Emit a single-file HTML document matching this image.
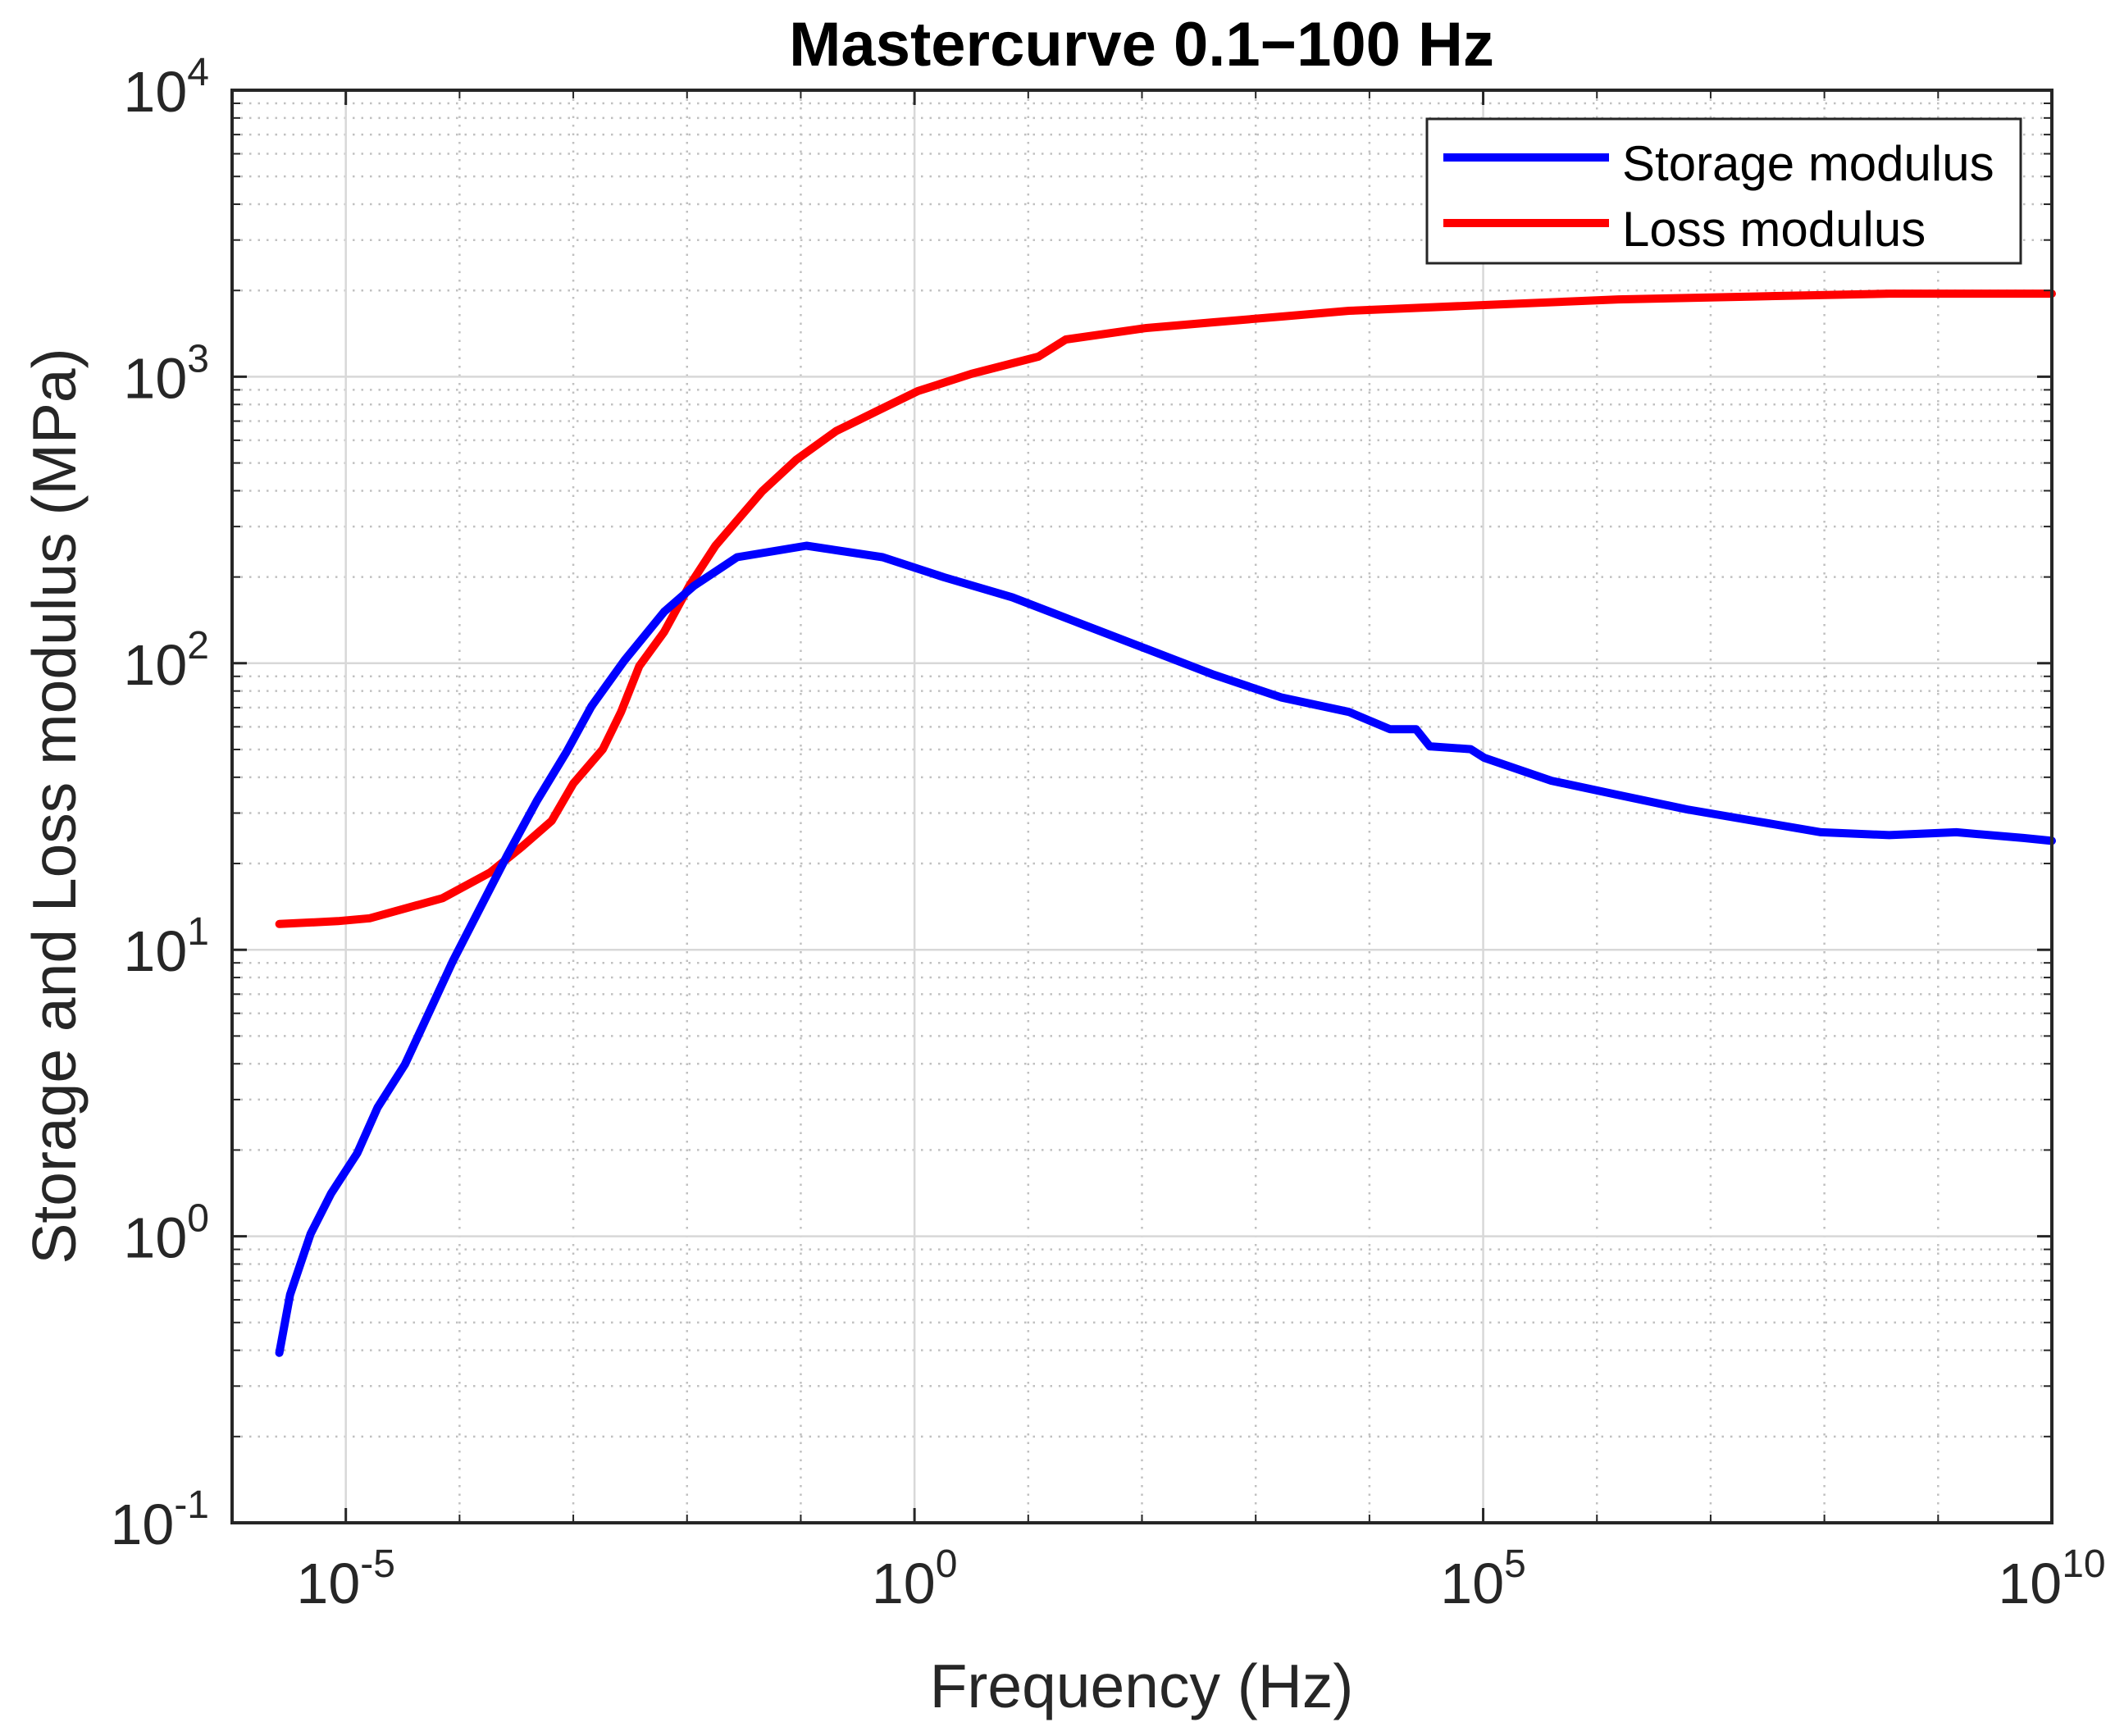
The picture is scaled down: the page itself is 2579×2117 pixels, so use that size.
<!DOCTYPE html>
<html><head><meta charset="utf-8"><style>
html,body{margin:0;padding:0;background:#fff;}
svg{display:block;font-family:"Liberation Sans",Arial,sans-serif;}
</style></head><body>
<svg id="chart" width="2579" height="2117" viewBox="0 0 2579 2117" xmlns="http://www.w3.org/2000/svg">
<rect x="0" y="0" width="2579" height="2117" fill="#fff"/>
<g id="grid"></g>
<g id="series"></g>
<g id="axes"></g>
<text x="1392" y="80" font-size="76" font-weight="bold" text-anchor="middle" fill="#000">Mastercurve 0.1−100 Hz</text>
<text x="1392" y="2082" font-size="75" text-anchor="middle" fill="#262626">Frequency (Hz)</text>
<text transform="translate(92,983) rotate(-90)" font-size="75" text-anchor="middle" fill="#262626">Storage and Loss modulus (MPa)</text>
<g>
<rect x="1740" y="145" width="724" height="176" fill="#fff" stroke="#262626" stroke-width="3"/>
<line x1="1760" y1="192" x2="1962" y2="192" stroke="#0000ff" stroke-width="10"/>
<text x="1978" y="220" font-size="60" fill="#000">Storage modulus</text>
<line x1="1760" y1="272" x2="1962" y2="272" stroke="#ff0000" stroke-width="10"/>
<text x="1978" y="300" font-size="60" fill="#000">Loss modulus</text>
</g>
</svg>
<script>
const xTickExps = [-5, 0, 5, 10];
const yTickExps = [-1, 0, 1, 2, 3, 4];
const storageFreqExp = [-5.585,-5.49,-5.31,-5.13,-4.90,-4.72,-4.48,-4.06,-3.71,-3.58,-3.32,-3.06,-2.84,-2.55,-2.20,-1.94,-1.56,-0.95,-0.28,0.26,0.86,1.45,2.04,2.63,3.23,3.82,4.18,4.41,4.53,4.89,5.01,5.60,6.19,6.79,7.38,7.97,8.57,9.16,9.75,10.0];
const storageModExp = [-0.407,-0.204,0.008,0.149,0.29,0.45,0.60,0.96,1.23,1.33,1.52,1.69,1.85,2.01,2.18,2.27,2.37,2.41,2.37,2.30,2.23,2.14,2.05,1.96,1.88,1.83,1.77,1.77,1.71,1.70,1.67,1.59,1.54,1.49,1.45,1.41,1.40,1.41,1.39,1.38];
const lossFreqExp = [-5.585,-5.07,-4.79,-4.15,-3.73,-3.45,-3.19,-3.0,-2.74,-2.58,-2.42,-2.20,-1.98,-1.75,-1.34,-1.04,-0.69,-0.33,0.03,0.50,1.09,1.33,2.04,2.63,3.23,3.82,5.01,6.19,7.38,8.57,10.0];
const lossModExp = [1.09,1.10,1.11,1.18,1.27,1.36,1.45,1.58,1.70,1.83,1.99,2.11,2.27,2.41,2.60,2.71,2.81,2.88,2.95,3.01,3.07,3.13,3.17,3.19,3.21,3.23,3.25,3.27,3.28,3.29,3.29];

const NS='http://www.w3.org/2000/svg';
const L=283,R=2502,T=110,B=1857;
const xMin=-6,xMax=10,yMin=-1,yMax=4;
const xs=e=>L+(e-xMin)/(xMax-xMin)*(R-L);
const ys=e=>B-(e-yMin)/(yMax-yMin)*(B-T);
function mk(tag,attrs,parent){const el=document.createElementNS(NS,tag);for(const k in attrs)el.setAttribute(k,attrs[k]);parent.appendChild(el);return el;}
const grid=document.getElementById('grid'),axes=document.getElementById('axes'),series=document.getElementById('series');

for(let d=yMin;d<yMax;d++){for(let m=2;m<=9;m++){const y=ys(d+Math.log10(m));
const ln=mk('line',{x1:L,x2:R,y1:y,y2:y,stroke:'#c0c0c0','stroke-width':2.5,'stroke-dasharray':'2.5,8'},grid);


mk('line',{x1:L,x2:L+10,y1:y,y2:y,stroke:'#262626','stroke-width':2},axes);
mk('line',{x1:R,x2:R-10,y1:y,y2:y,stroke:'#262626','stroke-width':2},axes);}}
for(let d=xMin+1;d<xMax;d++){if(d%5===0)continue;const x=xs(d);
const ln=mk('line',{x1:x,x2:x,y1:T,y2:B,stroke:'#c0c0c0','stroke-width':2.5,'stroke-dasharray':'2.5,8'},grid);


mk('line',{x1:x,x2:x,y1:B,y2:B-10,stroke:'#262626','stroke-width':2},axes);
mk('line',{x1:x,x2:x,y1:T,y2:T+10,stroke:'#262626','stroke-width':2},axes);}
yTickExps.forEach(e=>{const y=ys(e);
const ln=mk('line',{x1:L,x2:R,y1:y,y2:y,stroke:'#d8d8d8','stroke-width':2.5},grid);


mk('line',{x1:L,x2:L+18,y1:y,y2:y,stroke:'#262626','stroke-width':3},axes);
mk('line',{x1:R,x2:R-18,y1:y,y2:y,stroke:'#262626','stroke-width':3},axes);
const t=mk('text',{x:L-28,y:y+26,'font-size':70,'text-anchor':'end',fill:'#262626'},axes);


t.innerHTML='10<tspan dy="-32" font-size="48">'+e+'</tspan>';});
xTickExps.forEach(e=>{const x=xs(e);
const ln=mk('line',{x1:x,x2:x,y1:T,y2:B,stroke:'#d8d8d8','stroke-width':2.5},grid);


mk('line',{x1:x,x2:x,y1:B,y2:B-18,stroke:'#262626','stroke-width':3},axes);
mk('line',{x1:x,x2:x,y1:T,y2:T+18,stroke:'#262626','stroke-width':3},axes);
const t=mk('text',{x:x,y:B+98,'font-size':70,'text-anchor':'middle',fill:'#262626'},axes);


t.innerHTML='10<tspan dy="-32" font-size="48">'+e+'</tspan>';});
const box=mk('rect',{x:L,y:T,width:R-L,height:B-T,fill:'none',stroke:'#262626','stroke-width':4},axes);



function drawLine(fx,fy,color,name){
const d=fx.map((v,i)=>(i?'L':'M')+xs(v).toFixed(1)+','+ys(fy[i]).toFixed(1)).join(' ');
const p=mk('path',{d:d,fill:'none',stroke:color,'stroke-width':10,'stroke-linejoin':'round','stroke-linecap':'round'},series);

}
drawLine(lossFreqExp,lossModExp,'#ff0000','loss-modulus-line');
drawLine(storageFreqExp,storageModExp,'#0000ff','storage-modulus-line');
</script>
</body></html>
